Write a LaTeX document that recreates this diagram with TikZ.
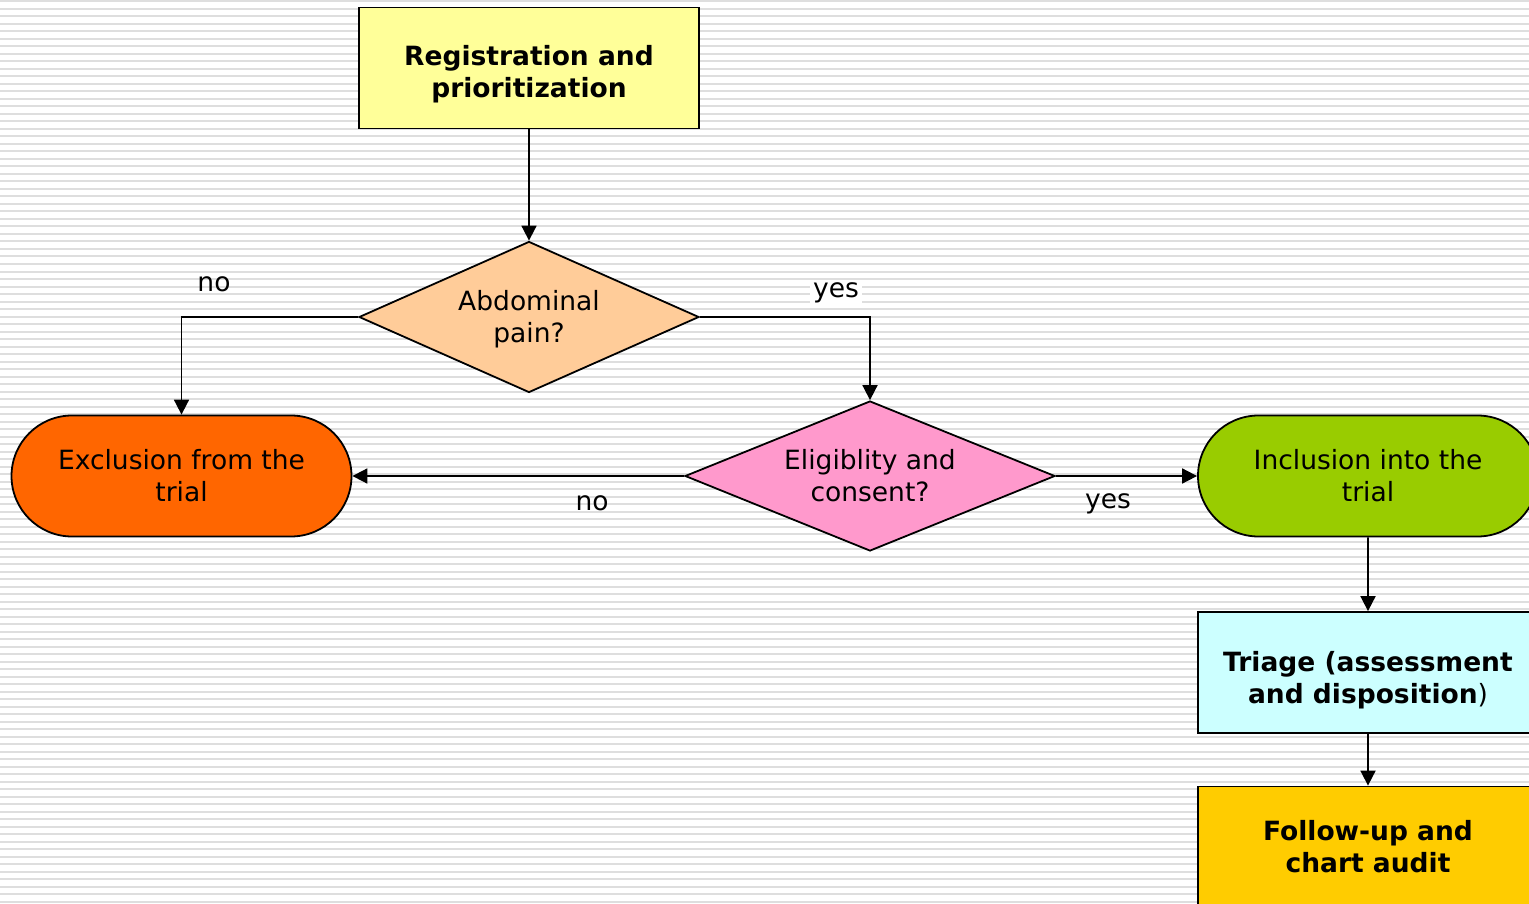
\documentclass[tikz,border=0pt]{standalone}
\usepackage{fontspec}
\setmainfont{DejaVu Sans}
\usetikzlibrary{shapes.geometric,shapes.misc,arrows.meta}

\newcommand{\toppad}[1]{\rule{0pt}{#1}}

\tikzset{
  box/.style={draw=black, line width=1.8pt, rectangle, minimum width=340pt,
    minimum height=121pt, align=center, inner sep=0pt, font=\fontsize{26.5}{32}\selectfont\bfseries},
  decision/.style={draw=black, line width=1.8pt, diamond, inner sep=0pt,
    align=center, font=\fontsize{26.5}{32}\selectfont},
  terminal/.style={draw=black, line width=1.8pt, rounded rectangle, minimum width=340pt,
    minimum height=121pt, align=center, inner sep=0pt, font=\fontsize{26.5}{32}\selectfont},
  flow/.style={line width=1.8pt, -{Triangle[length=15pt,width=15pt]}},
  answer/.style={font=\fontsize{26.5}{30}\selectfont, inner sep=2pt},
}

\begin{document}
\begin{tikzpicture}[x=1pt,y=-1pt]
      \useasboundingbox (0,0) rectangle (1529,904);
      \clip (0,0) rectangle (1529,904);
      % striped background
      \fill [white] (0,0) rectangle (1529,904);
      \foreach \i in {0,...,120}
        \fill [black!13] (0,{0.5+7.5*\i}) rectangle (1529,{2.5+7.5*\i});

      % boxes
      \node [box, fill={rgb,255:red,255;green,255;blue,153}] (reg) at (529,68)
        {\toppad{33pt}Registration and\\prioritization};
      \node [decision, fill={rgb,255:red,255;green,204;blue,153}, shape aspect=2.25,
        minimum width=340pt, minimum height=151pt] (pain) at (529,317)
        {\toppad{25pt}Abdominal\\pain?};
      \node [decision, fill={rgb,255:red,255;green,153;blue,204}, shape aspect=2.47,
        minimum width=370pt, minimum height=150pt] (elig) at (870,476)
        {Eligiblity and\\consent?};
      \node [terminal, fill={rgb,255:red,255;green,102;blue,0}] (excl) at (181.5,476)
        {Exclusion from the\\trial};
      \node [terminal, fill={rgb,255:red,153;green,204;blue,0}] (incl) at (1368,476)
        {Inclusion into the\\trial};
      \node [box, fill={rgb,255:red,204;green,255;blue,255}] (triage) at (1368,672.5)
        {\toppad{36pt}Triage (assessment\\and disposition\textmd{)}};
      \node [box, fill={rgb,255:red,255;green,204;blue,0}] (follow) at (1368,847)
        {Follow-up and\\chart audit};

      % connectors
      \draw [flow] (reg) -- (pain);
      \draw [flow] (pain.west) -| (excl.north);
      \draw [flow] (pain.east) -| (elig.north);
      \draw [flow] (elig.west) -- (excl.east);
      \draw [flow] (elig.east) -- (incl.west);
      \draw [flow] (incl) -- (triage);
      \draw [flow] (triage) -- (follow);

      % labels
      \node [answer] (no1) at (214,284) {no};
      \node [answer, fill=white, inner sep=3pt] (yes1) at (836,293) {yes};
      \node [answer] (no2) at (592,503) {no};
      \node [answer] (yes2) at (1108,504) {yes};
\end{tikzpicture}
\end{document}
